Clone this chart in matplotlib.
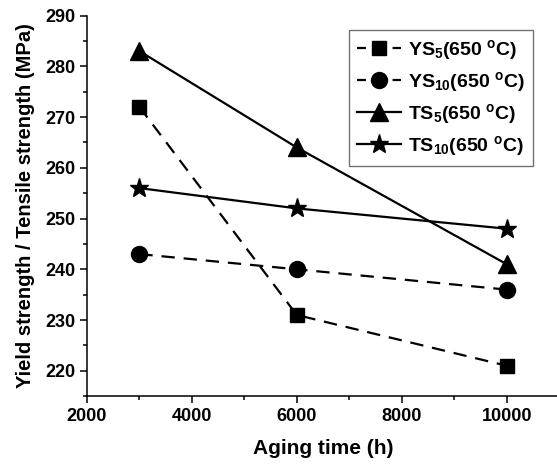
import numpy as np
import matplotlib
matplotlib.use('Agg')
import matplotlib.pyplot as plt
from matplotlib.ticker import MultipleLocator

plt.rcParams['font.family'] = 'Liberation Sans'
plt.rcParams['font.weight'] = 'bold'
plt.rcParams['mathtext.fontset'] = 'custom'
plt.rcParams['mathtext.rm'] = 'Liberation Sans:bold'
plt.rcParams['mathtext.bf'] = 'Liberation Sans:bold'
plt.rcParams['mathtext.default'] = 'bf'

time_h = [3000, 6000, 10000]
ys5 = [272, 231, 221]
ys10 = [243, 240, 236]
ts5 = [283, 264, 241]
ts10 = [256, 252, 248]

fig = plt.figure(figsize=(5.57, 4.7), dpi=100)
ax = fig.add_axes([0.156, 0.157, 0.848, 0.810])

ax.plot(time_h, ys5, 'k--s', ms=10, lw=1.6, dashes=(6, 4), label=r'YS$_{5}$(650 $^{o}$C)')
ax.plot(time_h, ys10, 'k--o', ms=11.5, lw=1.6, dashes=(6, 4), label=r'YS$_{10}$(650 $^{o}$C)')
ax.plot(time_h, ts5, 'k-^', ms=12.5, lw=1.6, label=r'TS$_{5}$(650 $^{o}$C)')
ax.plot(time_h, ts10, 'k-*', ms=14, lw=1.6, label=r'TS$_{10}$(650 $^{o}$C)')

ax.set_xlim(2000, 11000)
ax.set_ylim(215, 290)
ax.set_xticks([2000, 4000, 6000, 8000, 10000])
ax.set_yticks(np.arange(220, 291, 10))
ax.xaxis.set_minor_locator(MultipleLocator(1000))
ax.yaxis.set_minor_locator(MultipleLocator(5))
ax.tick_params(which='major', direction='out', length=5, width=1.1, labelsize=13)
ax.tick_params(which='minor', direction='out', length=3, width=1.1)
for lab in ax.get_xticklabels() + ax.get_yticklabels():
    lab.set_fontweight('bold')
for sp in ax.spines.values():
    sp.set_linewidth(1.1)

ax.spines['top'].set_visible(False)
ax.spines['right'].set_visible(False)

ax.set_xlabel('Aging time (h)', fontsize=15, fontweight='bold', labelpad=10)
ax.set_ylabel('Yield strength / Tensile strength (MPa)', fontsize=14.5, fontweight='bold', labelpad=7)

# legend box, dashed handles shortened so both sides of the marker show
leg = ax.legend(loc='upper right', bbox_to_anchor=(0.944, 0.962), fontsize=14, frameon=True,
                fancybox=False, edgecolor='0.3', handlelength=2.3, handletextpad=0.35,
                borderpad=0.4, labelspacing=0.42, borderaxespad=0)
leg.get_frame().set_linewidth(1)
for ln in leg.get_lines()[:2]:
    ln.set_dashes([4, 4])

fig.savefig('out.png', dpi=100)
